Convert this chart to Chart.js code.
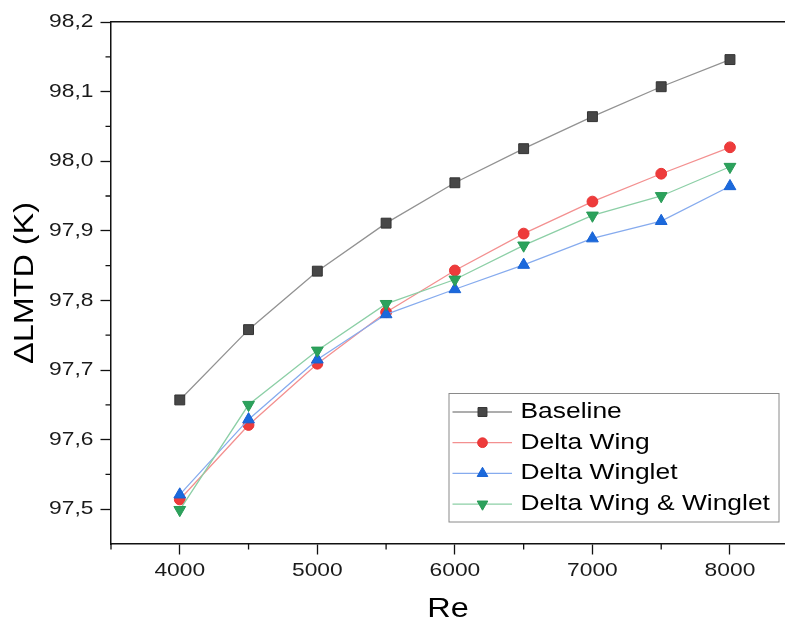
<!DOCTYPE html>
<html>
<head>
<meta charset="utf-8">
<title>ΔLMTD vs Re</title>
<script src="https://cdn.jsdelivr.net/npm/chart.js@4.4.1/dist/chart.umd.min.js"></script>
<style>
    html, body { margin: 0; padding: 0; background: #fff; }
    #wrap { width: 785px; height: 626px; }
</style>
</head>
<body>
<div id="wrap"><canvas id="lmtdCanvas" width="785" height="626"></canvas></div>
<script>
// Reynolds numbers and ΔLMTD (K) per configuration
const reynolds = [4000, 4500, 5000, 5500, 6000, 6500, 7000, 7500, 8000];
const baseline = [97.657, 97.758, 97.842, 97.911, 97.969, 98.018, 98.064, 98.107, 98.146];
const deltaWing = [97.514, 97.621, 97.709, 97.783, 97.843, 97.896, 97.942, 97.982, 98.020];
const deltaWinglet = [97.521, 97.629, 97.715, 97.780, 97.816, 97.851, 97.889, 97.914, 97.964];
const wingAndWinglet = [97.499, 97.650, 97.728, 97.795, 97.830, 97.879, 97.922, 97.950, 97.992];

const xTicks = [4000, 5000, 6000, 7000, 8000];
const yTicks = [97.5, 97.6, 97.7, 97.8, 97.9, 98.0, 98.1, 98.2];
const xMinor = [3500, 4500, 5500, 6500, 7500];
const yMinor = [97.55, 97.65, 97.75, 97.85, 97.95, 98.05, 98.15];

const FONT = '"Liberation Sans", Arial, sans-serif';
const TEXT_STRETCH = 1.2;   // text is set a little wide

const canvas = document.getElementById('lmtdCanvas');
const ctx = canvas.getContext('2d');

// widen every glyph run around its anchor, and report the wider size to layout
const plainFill = ctx.fillText.bind(ctx);
const plainMeasure = ctx.measureText.bind(ctx);
ctx.fillText = (text, x, y) => {
    ctx.save();
    ctx.translate(x, y);
    ctx.scale(TEXT_STRETCH, 1);
    plainFill(text, 0, 0);
    ctx.restore();
};
ctx.measureText = (text) => {
    const m = plainMeasure(text);
    return {
        width: m.width * TEXT_STRETCH,
        actualBoundingBoxAscent: m.actualBoundingBoxAscent,
        actualBoundingBoxDescent: m.actualBoundingBoxDescent,
        actualBoundingBoxLeft: m.actualBoundingBoxLeft * TEXT_STRETCH,
        actualBoundingBoxRight: m.actualBoundingBoxRight * TEXT_STRETCH
    };
};

function series(label, values, line, fill, edge, style, radius, rotation, order) {
    return {
        label: label,
        data: reynolds.map((re, i) => ({ x: re, y: values[i] })),
        borderColor: line,
        borderWidth: 1.3,
        backgroundColor: fill,
        pointBackgroundColor: fill,
        pointBorderColor: edge,
        pointBorderWidth: 1,
        pointStyle: style,
        pointRadius: radius,
        pointHoverRadius: radius,
        pointRotation: rotation,
        tension: 0,
        order: order
    };
}

// horizontal axes run right up to the canvas edge
function fitBottom(s) {
    s.height = 82;
    s.paddingLeft = 0;
    s.paddingRight = 0;
}
function fitTop(s) {
    s.height = 0;
    s.paddingLeft = 0;
    s.paddingRight = 0;
}

// short in-between ticks on both axes
const minorTicks = {
    id: 'minorTicks',
    afterDraw(chart) {
        const { ctx, scales: { x, y } } = chart;
        ctx.save();
        ctx.strokeStyle = '#111';
        ctx.lineWidth = 1.3;
        ctx.beginPath();
        xMinor.forEach(v => {
            const px = x.getPixelForValue(v);
            ctx.moveTo(px, x.top);
            ctx.lineTo(px, x.top + 5.5);
        });
        yMinor.forEach(v => {
            const py = y.getPixelForValue(v);
            ctx.moveTo(y.right, py);
            ctx.lineTo(y.right - 5.5, py);
        });
        ctx.stroke();
        ctx.restore();
    }
};

// boxed legend with line + symbol samples, lower right of the plot
const legendBox = {
    id: 'legendBox',
    afterDraw(chart) {
        const { ctx, chartArea } = chart;
        const right = chartArea.right - 6;
        const bottom = chartArea.bottom - 22;
        const left = right - 330;
        const top = bottom - 128.5;
        ctx.save();
        ctx.fillStyle = '#fff';
        ctx.fillRect(left, top, right - left, bottom - top);
        ctx.strokeStyle = '#8a8a8a';
        ctx.lineWidth = 1;
        ctx.strokeRect(left, top, right - left, bottom - top);
        chart.data.datasets.forEach((ds, i) => {
            const y = top + 18.5 + i * 30.7;
            ctx.strokeStyle = ds.borderColor;
            ctx.lineWidth = ds.borderWidth;
            ctx.beginPath();
            ctx.moveTo(left + 3.5, y);
            ctx.lineTo(left + 63, y);
            ctx.stroke();
            ctx.fillStyle = ds.pointBackgroundColor;
            ctx.strokeStyle = ds.pointBorderColor;
            ctx.lineWidth = ds.pointBorderWidth;
            Chart.helpers.drawPoint(ctx, {
                pointStyle: ds.pointStyle,
                radius: ds.pointRadius * 0.9,
                rotation: ds.pointRotation,
                borderWidth: ds.pointBorderWidth
            }, left + 33.5, y);
            ctx.fillStyle = '#000';
            ctx.font = '22px ' + FONT;
            ctx.textAlign = 'left';
            ctx.textBaseline = 'middle';
            ctx.fillText(ds.label, left + 71.5, y);
        });
        ctx.restore();
    }
};

new Chart(ctx, {
    type: 'line',
    data: {
        datasets: [
            series('Baseline', baseline, '#929292', '#474747', '#333333', 'rect', 7, 0, 4),
            series('Delta Wing', deltaWing, '#f39090', '#ee3b3b', '#e83434', 'circle', 5.4, 0, 3),
            series('Delta Winglet', deltaWinglet, '#86abee', '#1b69dc', '#1862d4', 'triangle', 6.8, 0, 2),
            series('Delta Wing & Winglet', wingAndWinglet, '#8ccfa6', '#2ca25c', '#289a56', 'triangle', 6.8, 180, 1)
        ]
    },
    options: {
        responsive: false,
        animation: false,
        layout: { autoPadding: false, padding: { top: 22, right: 0, bottom: 0, left: 0 } },
        plugins: {
            legend: { display: false },
            tooltip: { enabled: false }
        },
        scales: {
            x: {
                type: 'linear',
                position: 'bottom',
                min: 3500,
                max: 8400,
                afterBuildTicks: s => { s.ticks = xTicks.map(v => ({ value: v })); },
                afterFit: fitBottom,
                grid: { drawOnChartArea: false, tickLength: 10.5, tickColor: '#111', tickWidth: 1.3 },
                border: { color: '#111', width: 1.5 },
                ticks: {
                    autoSkip: false,
                    maxRotation: 0,
                    padding: 5,
                    color: '#1a1a1a',
                    font: { family: FONT, size: 19 },
                    callback: v => String(v)
                },
                title: {
                    display: true,
                    text: 'Re',
                    color: '#000',
                    padding: { top: 0, bottom: 0 },
                    font: { family: FONT, size: 27 }
                }
            },
            x2: {
                type: 'linear',
                position: 'top',
                min: 3500,
                max: 8400,
                afterFit: fitTop,
                grid: { display: false, drawTicks: false },
                ticks: { display: false },
                border: { display: true, color: '#111', width: 1.5 }
            },
            y: {
                type: 'linear',
                position: 'left',
                min: 97.45,
                max: 98.2,
                afterBuildTicks: s => { s.ticks = yTicks.map(v => ({ value: v })); },
                afterFit: s => { s.width = 111; },
                grid: { drawOnChartArea: false, tickLength: 10.5, tickColor: '#111', tickWidth: 1.3 },
                border: { color: '#111', width: 1.5 },
                ticks: {
                    padding: 7,
                    color: '#1a1a1a',
                    font: { family: FONT, size: 19 },
                    callback: v => v.toFixed(1).replace('.', ',')
                },
                title: {
                    display: true,
                    text: 'ΔLMTD (K)',
                    color: '#000',
                    padding: { top: 9, bottom: 0 },
                    font: { family: FONT, size: 27 }
                }
            }
        }
    },
    plugins: [minorTicks, legendBox]
});
</script>
</body>
</html>
